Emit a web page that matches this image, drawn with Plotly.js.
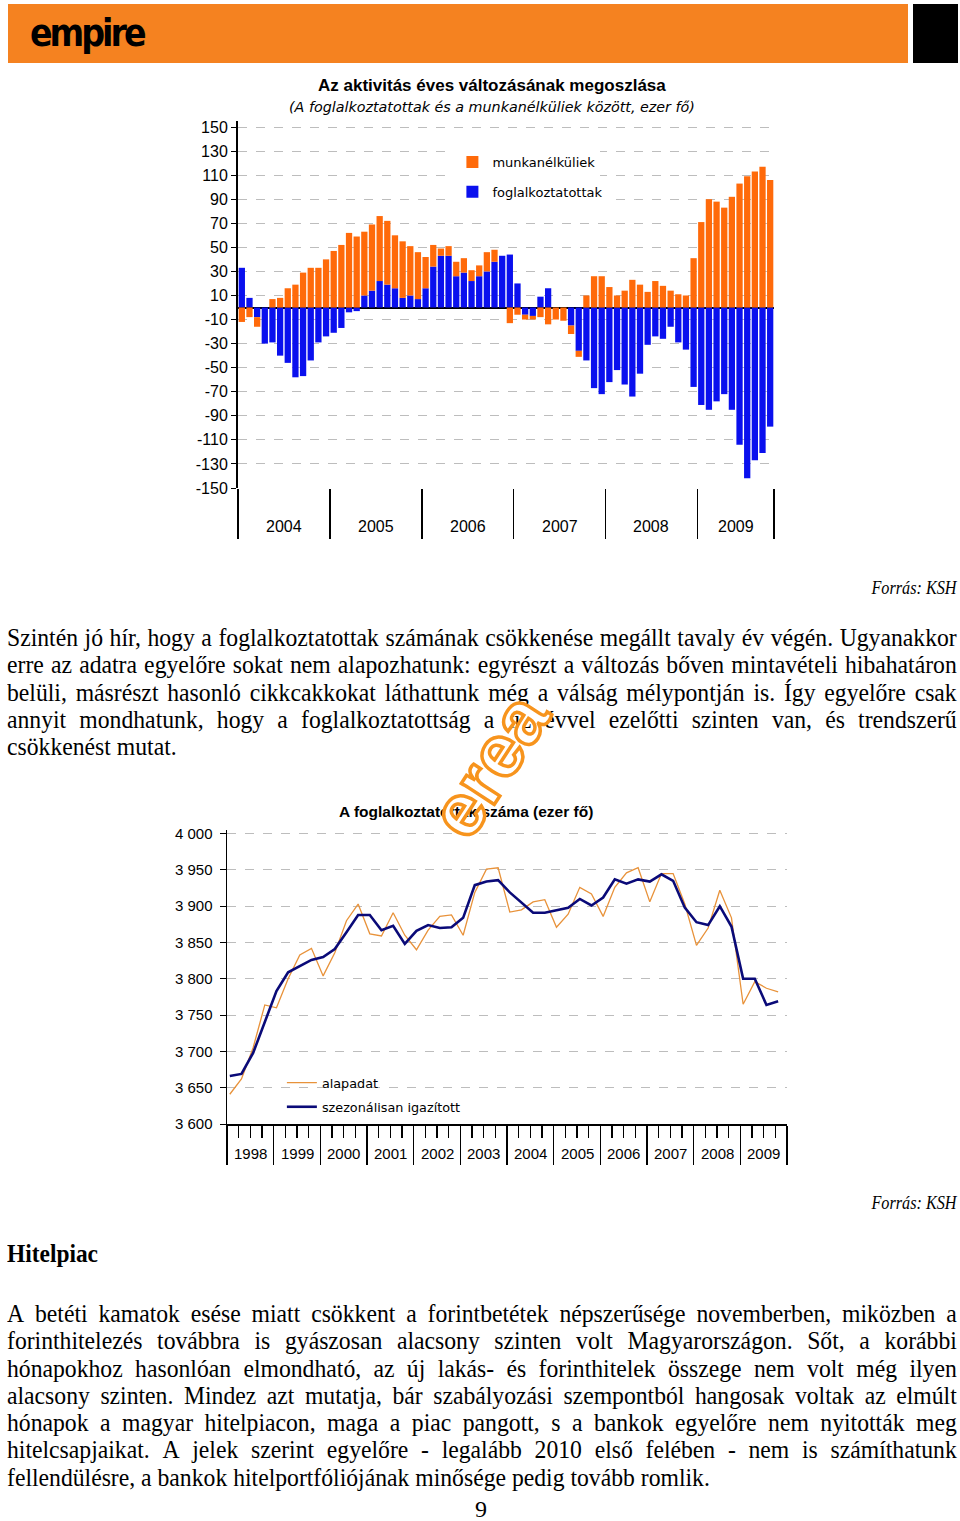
<!DOCTYPE html>
<html lang="hu">
<head>
<meta charset="utf-8">
<script src="https://cdn.plot.ly/plotly-3.0.1.min.js"></script>
<style>
  body { margin:0; width:960px; height:1521px; position:relative; background:#fff; overflow:hidden;
         font-family:'Liberation Serif','Times New Roman',serif; color:#000; }
  #fejlec { position:absolute; left:8px; top:4px; width:900px; height:59px; background:#f58220; }
  #fekete { position:absolute; left:913px; top:4px; width:45px; height:59px; background:#000; }
  #logo { position:absolute; left:30px; top:12px; font-family:'DejaVu Sans Condensed','DejaVu Sans',sans-serif;
          font-weight:bold; font-size:37px; letter-spacing:-3px; color:#000; }
  #abra1 { position:absolute; left:150px; top:70px; width:650px; height:490px; }
  #abra2 { position:absolute; left:150px; top:795px; width:650px; height:380px; }
  .szoveg { position:absolute; left:7px; width:1003px; transform:scaleX(0.947); transform-origin:0 0; font-size:25px; }
  .sor { display:flex; justify-content:space-between; height:27.3px; line-height:27.3px; white-space:nowrap; }
  .sor.utolso { display:block; }
  .forras { position:absolute; right:3px; font-style:italic; font-size:18px; transform:scaleX(0.9); transform-origin:100% 0; }
  #cim { position:absolute; left:7px; top:1239px; font-weight:bold; font-size:26px; transform:scaleX(0.9); transform-origin:0 0; }
  #oldal { position:absolute; left:475px; top:1496px; font-size:24px; }
  #vizjel { position:absolute; left:413px; top:723px; font-family:'Liberation Sans',Arial,sans-serif; font-weight:bold;
            font-size:74px; color:#fff; -webkit-text-stroke:3.5px #f7941d; transform:rotate(-57deg); z-index:5; }
</style>
</head>
<body>
<div id="fejlec"></div>
<div id="fekete"></div>
<div id="logo">empire</div>

<div id="abra1"></div>
<div class="forras" style="top:578px">Forrás: KSH</div>
<div id="abra2"></div>
<div class="forras" style="top:1193px">Forrás: KSH</div>
<div id="cim">Hitelpiac</div>
<div id="oldal">9</div>
<div id="vizjel">erea</div>

<script>
// ---- 1. ábra: az aktivitás éves változása (havi adatok, 2004.01 - 2009.10) ----
const evek1 = [2004, 2005, 2006, 2007, 2008, 2009];
const honapokSzama = [12, 12, 12, 12, 12, 10];
const foglalkoztatottak = [
  33, 8, -8, -30, -29, -40, -46, -58, -57, -44, -29, -24,
  -21, -17, -4, -3, 10, 14, 22, 19, 16, 8, 10, 7,
  16, 34, 43, 43, 26, 29, 22, 26, 30, 38, 43, 44,
  20, -6, -7, 9, 16, 0, 0, -15, -36, -44, -67, -72,
  -62, -52, -64, -74, -55, -31, -24, -26, -16, -29, -35, -66,
  -81, -85, -78, -72, -85, -114, -142, -127, -121, -99
];
const munkanelkuliek = [
  -12, -8, -8, 0, 7, 8, 16, 19, 29, 33, 33, 40,
  47, 52, 62, 59, 53, 55, 54, 53, 44, 47, 41, 39,
  26, 18, 6, 8, 12, 12, 9, 9, 16, 10, 0, -13,
  -6, -4, -3, -8, -14, -10, -11, -7, -5, 10, 26, 26,
  17, 10, 14, 23, 19, 13, 22, 18, 14, 11, 10, 41,
  71, 90, 88, 83, 92, 103, 109, 113, 117, 106
];
const yTicks1 = [150, 130, 110, 90, 70, 50, 30, 10, -10, -30, -50, -70, -90, -110, -130, -150];

// ---- 2. ábra: foglalkoztatottak száma (negyedéves pontok) ----
const idopontok = [];
for (let ev = 1998; ev <= 2009; ev++) [0.06, 0.31, 0.56, 0.81].forEach(q => idopontok.push(ev + q));
const alapadat = [
  3641, 3662, 3705, 3764, 3760, 3800, 3833, 3842, 3804, 3836, 3880, 3903,
  3862, 3859, 3891, 3860, 3840, 3867, 3886, 3888, 3860, 3919, 3951, 3953,
  3892, 3895, 3906, 3909, 3871, 3889, 3926, 3917, 3886, 3926, 3946, 3953,
  3906, 3945, 3945, 3903, 3846, 3870, 3922, 3884, 3765, 3796, 3787, 3782
];
const szezonalis = [
  3666, 3669, 3698, 3742, 3783, 3809, 3818, 3826, 3830, 3841, 3864, 3888,
  3888, 3867, 3873, 3848, 3866, 3874, 3870, 3871, 3884, 3929, 3934, 3936,
  3919, 3905, 3891, 3891, 3895, 3898, 3910, 3901, 3912, 3937, 3931, 3937,
  3934, 3944, 3935, 3898, 3878, 3874, 3900, 3872, 3800, 3800, 3764, 3769
];
const evek2 = [1998, 1999, 2000, 2001, 2002, 2003, 2004, 2005, 2006, 2007, 2008, 2009];
const yTicks2 = [3600, 3650, 3700, 3750, 3800, 3850, 3900, 3950, 4000];
const yTickText2 = ['3 600', '3 650', '3 700', '3 750', '3 800', '3 850', '3 900', '3 950', '4 000'];

// ---- szövegek ----
const bekezdes1 = [
  'Szintén jó hír, hogy a foglalkoztatottak számának csökkenése megállt tavaly év végén. Ugyanakkor',
  'erre az adatra egyelőre sokat nem alapozhatunk: egyrészt a változás bőven mintavételi hibahatáron',
  'belüli, másrészt hasonló cikkcakkokat láthattunk még a válság mélypontján is. Így egyelőre csak',
  'annyit mondhatunk, hogy a foglalkoztatottság a tíz évvel ezelőtti szinten van, és trendszerű',
  'csökkenést mutat.'
];
const bekezdes2 = [
  'A betéti kamatok esése miatt csökkent a forintbetétek népszerűsége novemberben, miközben a',
  'forinthitelezés továbbra is gyászosan alacsony szinten volt Magyarországon. Sőt, a korábbi',
  'hónapokhoz hasonlóan elmondható, az új lakás- és forinthitelek összege nem volt még ilyen',
  'alacsony szinten. Mindez azt mutatja, bár szabályozási szempontból hangosak voltak az elmúlt',
  'hónapok a magyar hitelpiacon, maga a piac pangott, s a bankok egyelőre nem nyitották meg',
  'hitelcsapjaikat. A jelek szerint egyelőre - legalább 2010 első felében - nem is számíthatunk',
  'fellendülésre, a bankok hitelportfóliójának minősége pedig tovább romlik.'
];

// Sorkizárt bekezdés, soronként
function szovegBlokk(sorok, top) {
  const div = document.createElement('div');
  div.className = 'szoveg';
  div.style.top = top + 'px';
  sorok.forEach((s, i) => {
    const sor = document.createElement('div');
    sor.className = 'sor';
    if (i === sorok.length - 1) {
      sor.classList.add('utolso');
      sor.textContent = s;
    } else {
      s.split(' ').forEach(w => {
        const sp = document.createElement('span');
        sp.textContent = w;
        sor.appendChild(sp);
      });
    }
    div.appendChild(sor);
  });
  document.body.appendChild(div);
}
szovegBlokk(bekezdes1, 624);
szovegBlokk(bekezdes2, 1300);

// ---- 1. ábra rajzolása ----
const idx = foglalkoztatottak.map((_, i) => i);
const evHatarok1 = [-0.5];
const evKozep1 = [];
honapokSzama.forEach((n, k) => {
  const eleje = evHatarok1[k];
  evHatarok1.push(eleje + n);
  evKozep1.push(eleje + n / 2);
});

const sans = 'Liberation Sans, Arial, sans-serif';
const narancs = '#ff6a0a';
const kek = '#0a10ee';

const trace1 = [
  { x: idx, y: foglalkoztatottak, type: 'bar', name: 'foglalkoztatottak',
    marker: { color: kek }, legend: 'legend2', hoverinfo: 'y' },
  { x: idx, y: munkanelkuliek, type: 'bar', name: 'munkanélküliek',
    marker: { color: narancs }, legend: 'legend', hoverinfo: 'y' }
];

const ann1 = evek1.map((ev, k) => ({
  x: evKozep1[k], y: -0.106, xref: 'x', yref: 'paper', text: String(ev),
  showarrow: false, font: { family: sans, size: 16 }, yanchor: 'middle'
}));
ann1.push({ x: 0.474, y: 1.098, xref: 'paper', yref: 'paper', showarrow: false, yanchor: 'middle',
  text: '<b>Az aktivitás éves változásának megoszlása</b>', font: { family: sans, size: 17 } });
ann1.push({ x: 0.474, y: 1.038, xref: 'paper', yref: 'paper', showarrow: false, yanchor: 'middle',
  text: '<i>(A foglalkoztatottak és a munkanélküliek között, ezer fő)</i>',
  font: { family: 'DejaVu Sans, sans-serif', size: 14.3 } });

const legendBase = { xanchor: 'left', yanchor: 'middle', bgcolor: '#fff', borderwidth: 0,
  font: { family: 'DejaVu Sans, sans-serif', size: 13 }, itemwidth: 30 };

const layout1 = {
  width: 650, height: 490,
  margin: { l: 88, r: 26, t: 51, b: 72 },
  paper_bgcolor: 'rgba(0,0,0,0)', plot_bgcolor: 'rgba(0,0,0,0)',
  barmode: 'relative', bargap: 0.18,
  font: { family: sans, size: 16, color: '#000' },
  showlegend: true,
  xaxis: { range: [-0.5, 69.5], tickvals: evHatarok1, ticks: 'outside', ticklen: 50, tickwidth: 1.5,
    tickcolor: '#000', showticklabels: false, showgrid: false, zeroline: false, showline: false },
  yaxis: { range: [-150, 155], tickvals: yTicks1, ticktext: yTicks1.map(String), ticks: 'outside', ticklen: 5,
    tickcolor: '#000', showline: true, linecolor: '#000', linewidth: 2, showgrid: true, gridcolor: '#bdbdbd',
    griddash: 'dash', zeroline: true, zerolinecolor: '#000', zerolinewidth: 2 },
  legend: Object.assign({ x: 0.40, y: 0.888 }, legendBase),
  legend2: Object.assign({ x: 0.40, y: 0.807 }, legendBase),
  annotations: ann1
};

Plotly.newPlot('abra1', trace1, layout1, { staticPlot: true });

// ---- 2. ábra rajzolása ----
const trace2 = [
  { x: idopontok, y: alapadat, type: 'scatter', mode: 'lines', name: 'alapadat',
    line: { color: '#e8923a', width: 1.3 }, legend: 'legend' },
  { x: idopontok, y: szezonalis, type: 'scatter', mode: 'lines', name: 'szezonálisan igazított',
    line: { color: '#0a0a78', width: 2.6 }, legend: 'legend2' }
];

const ann2 = evek2.map(ev => ({
  x: ev + 0.5, y: -0.102, xref: 'x', yref: 'paper', text: String(ev),
  showarrow: false, font: { family: sans, size: 15 }, yanchor: 'middle'
}));
ann2.push({ x: 0.427, y: 1.063, xref: 'paper', yref: 'paper', showarrow: false, yanchor: 'middle',
  text: '<b>A foglalkoztatottak száma (ezer fő)</b>', font: { family: sans, size: 15.5 } });

const evHatarok2 = evek2.concat([2010]);
const legendBase2 = { xanchor: 'left', yanchor: 'middle', bgcolor: 'rgba(255,255,255,0)', borderwidth: 0,
  font: { family: 'DejaVu Sans, sans-serif', size: 12.8 }, itemwidth: 30 };

const layout2 = {
  width: 650, height: 380,
  margin: { l: 77, r: 13, t: 35, b: 51 },
  paper_bgcolor: 'rgba(0,0,0,0)', plot_bgcolor: 'rgba(0,0,0,0)',
  font: { family: sans, size: 15, color: '#000' },
  showlegend: true,
  xaxis: { range: [1998, 2010], tickvals: evHatarok2, ticks: 'outside', ticklen: 39, tickwidth: 1.5,
    tickcolor: '#000', showticklabels: false, showgrid: false, zeroline: false,
    showline: true, linecolor: '#000', linewidth: 1.5,
    minor: { ticks: 'outside', ticklen: 12, tickwidth: 1.5, tickcolor: '#000', dtick: 0.25, tick0: 1998, showgrid: false } },
  yaxis: { range: [3600, 4005], tickvals: yTicks2, ticktext: yTickText2, ticks: 'outside', ticklen: 6,
    tickcolor: '#000', showline: true, linecolor: '#000', linewidth: 1.5, showgrid: true,
    gridcolor: '#bdbdbd', griddash: 'dash', zeroline: false, ticklabelstandoff: 4 },
  legend: Object.assign({ x: 0.098, y: 0.14 }, legendBase2),
  legend2: Object.assign({ x: 0.098, y: 0.058 }, legendBase2),
  annotations: ann2
};

Plotly.newPlot('abra2', trace2, layout2, { staticPlot: true });
</script>
</body>
</html>
